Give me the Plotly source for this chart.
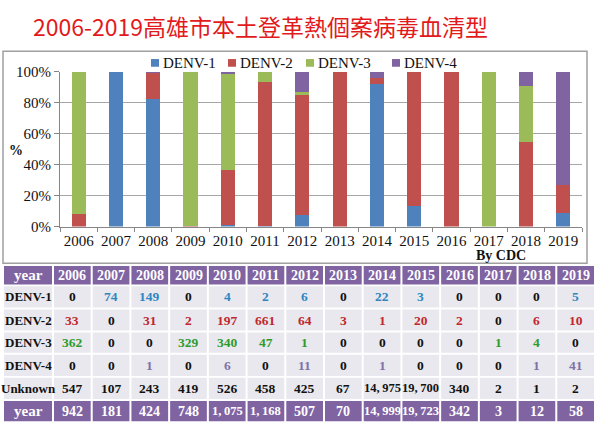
import plotly.graph_objects as go

years = ["2006", "2007", "2008", "2009", "2010", "2011", "2012", "2013",
         "2014", "2015", "2016", "2017", "2018", "2019"]
denv1 = [0, 74, 149, 0, 4, 2, 6, 0, 22, 3, 0, 0, 0, 5]
denv2 = [33, 0, 31, 2, 197, 661, 64, 3, 1, 20, 2, 0, 6, 10]
denv3 = [362, 0, 0, 329, 340, 47, 1, 0, 0, 0, 0, 1, 4, 0]
denv4 = [0, 0, 1, 0, 6, 0, 11, 0, 1, 0, 0, 0, 1, 41]
unknown = [547, 107, 243, 419, 526, 458, 425, 67, 14975, 19700, 340, 2, 1, 2]
totals = [942, 181, 424, 748, 1075, 1168, 507, 70, 14999, 19723, 342, 3, 12, 58]

series_names = ["DENV-1", "DENV-2", "DENV-3", "DENV-4"]
series_vals = [denv1, denv2, denv3, denv4]
row_labels = ["DENV-1", "DENV-2", "DENV-3", "DENV-4", "Unknown", "year"]
bar_colors = ["#4F81BD", "#C0504D", "#9BBB59", "#8064A2"]
text_colors = ["#2E86C1", "#C0272D", "#2E9B2E", "#7E72A8"]

W, H = 600, 433
SERIF = "Liberation Serif"
PURPLE = "#8064A2"
ROWBG = "#E8E8EE"

def px(x):
    return x / W

def py(y):
    return (H - y) / H

fig = go.Figure()

for name, vals, col in zip(series_names, series_vals, bar_colors):
    fig.add_trace(go.Bar(x=years, y=vals, name=name, marker=dict(color=col, line=dict(width=0)),
                         showlegend=False))

shapes = []
annotations = []

# Chart frame
shapes.append(dict(type="rect", xref="paper", yref="paper",
                   x0=px(3), x1=px(587), y0=py(265), y1=py(45),
                   line=dict(color="#A0A0A0", width=1.5), fillcolor="rgba(0,0,0,0)"))

# Manual legend
leg_x = [155, 232, 310, 396]
for name, col, lx in zip(series_names, bar_colors, leg_x):
    shapes.append(dict(type="rect", xref="paper", yref="paper",
                       x0=px(lx - 4), x1=px(lx + 4), y0=py(61), y1=py(53),
                       line=dict(width=0), fillcolor=col))
    annotations.append(dict(text=name, xref="paper", yref="paper", x=px(lx + 6), y=py(57),
                            xanchor="left", yanchor="middle", showarrow=False,
                            font=dict(family=SERIF, size=15, color="#111111")))

# Table drawn with shapes + text
def fmt(v):
    return f"{v:,}".replace(",", ",\u2009")

col_edges = [3, 53] + [53 + (595 - 53) * (i + 1) / 14 for i in range(14)]
row_edges = [267, 288, 312, 336, 359, 383, 407, 430]

header = ["year"] + years
table_rows = [header]
row_colors = [["white"] * 15]
for r, lab in enumerate(row_labels):
    if r < 4:
        vals = series_vals[r]
        cells = [fmt(v) for v in vals]
        cols = [text_colors[r] if v != 0 else "#111111" for v in vals]
        table_rows.append([lab] + cells)
        row_colors.append(["#111111"] + cols)
    elif r == 4:
        table_rows.append([lab] + [fmt(v) for v in unknown])
        row_colors.append(["#111111"] * 15)
    else:
        table_rows.append([lab] + [fmt(v) for v in totals])
        row_colors.append(["white"] * 15)

for r, row in enumerate(table_rows):
    y0, y1 = row_edges[r], row_edges[r + 1]
    purple_row = (r == 0 or r == len(table_rows) - 1)
    for c, txt in enumerate(row):
        x0, x1 = col_edges[c], col_edges[c + 1]
        shapes.append(dict(type="rect", xref="paper", yref="paper",
                           x0=px(x0 + 1), x1=px(x1 - 1), y0=py(y1 - 1), y1=py(y0 + 1),
                           line=dict(width=0), fillcolor=PURPLE if purple_row else ROWBG,
                           layer="below"))
        if c == 0:
            size = 15 if purple_row else 13
        elif len(txt) > 5:
            size = 12.5
        else:
            size = 14 if purple_row else 13.5
        annotations.append(dict(text=f"<b>{txt}</b>", xref="paper", yref="paper",
                                x=px((x0 + x1) / 2), y=py((y0 + y1) / 2),
                                xanchor="center", yanchor="middle", showarrow=False,
                                font=dict(family=SERIF, size=size, color=row_colors[r][c])))

annotations += [
    dict(text="2006-2019高雄市本土登革熱個案病毒血清型", xref="paper", yref="paper",
         x=px(260), y=py(19), xanchor="center", yanchor="middle", showarrow=False,
         font=dict(family="Noto Sans CJK TC", size=23, color="#E31A1C")),
    dict(text="<b>%</b>", xref="paper", yref="paper", x=px(16), y=py(148),
         xanchor="center", yanchor="middle", showarrow=False,
         font=dict(family=SERIF, size=14, color="#111111")),
    dict(text="<b>By CDC</b>", xref="paper", yref="paper", x=px(501), y=py(257),
         xanchor="center", yanchor="middle", showarrow=False,
         font=dict(family=SERIF, size=14, color="#111111")),
]

fig.update_layout(
    width=W, height=H,
    margin=dict(l=0, r=0, t=0, b=0),
    paper_bgcolor="white", plot_bgcolor="white",
    barmode="stack", barnorm="percent", bargap=0.62,
    showlegend=False,
    xaxis=dict(domain=[px(60), px(582)], type="category", showgrid=False,
               showline=True, linecolor="#868686", linewidth=1,
               ticks="outside", tickson="boundaries", ticklen=4, tickcolor="#868686",
               tickangle=0,
               tickfont=dict(family=SERIF, size=15, color="#111111")),
    yaxis=dict(domain=[py(227), py(66)], range=[0, 100], tickvals=[0, 20, 40, 60, 80, 100],
               ticktext=["0%", "20%", "40%", "60%", "80%", "100%"],
               showgrid=True, gridcolor="#A6A6A6", gridwidth=1,
               showline=True, linecolor="#868686", linewidth=1,
               ticks="outside", ticklen=5, tickcolor="#868686",
               tickfont=dict(family=SERIF, size=15, color="#111111")),
    shapes=shapes,
    annotations=annotations,
)

fig.write_html("out.html", config={"displayModeBar": False},
               post_script="document.body.style.margin='0';")
